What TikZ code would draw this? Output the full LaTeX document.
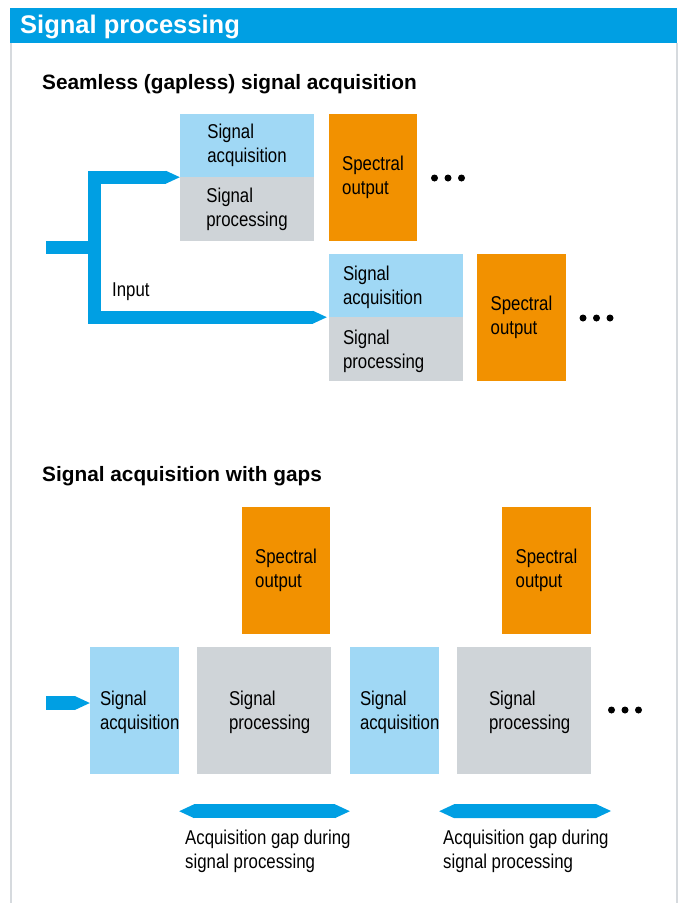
\documentclass[tikz,border=0pt]{standalone}
\usepackage{fontspec}
\setmainfont{Liberation Sans}
\newfontfamily\narrowfont{Liberation Sans}[FakeStretch=0.84]
\usetikzlibrary{arrows.meta}

\definecolor{brandblue}{RGB}{0,159,227}
\definecolor{acqblue}{RGB}{160,216,245}
\definecolor{procgray}{RGB}{207,212,216}
\definecolor{specorange}{RGB}{242,145,0}
\definecolor{framegray}{RGB}{214,218,222}

\tikzset{
  blk/.style={inner sep=0pt, align=left, font=\narrowfont\fontsize{20}{24}\selectfont},
  acq/.style={blk, fill=acqblue},
  proc/.style={blk, fill=procgray},
  spec/.style={blk, fill=specorange, minimum width=88pt, minimum height=127pt},
  pipe/.style={brandblue, line width=13pt, >={Triangle[length=14pt,width=13pt,line width=0pt]}},
  gap/.style={brandblue, line width=14pt, >={Triangle[length=15pt,width=14pt,line width=0pt]}},
  caption/.style={anchor=west, inner sep=0pt, yshift=-2pt, align=left, font=\narrowfont\fontsize{20}{24}\selectfont},
  subtitle/.style={anchor=base west, inner sep=0pt, font=\bfseries\fontsize{20.8}{25}\selectfont}
}

\begin{document}
\begin{tikzpicture}[x=1pt,y=-1pt]

  \useasboundingbox (0,0) rectangle (678,903);

  % header and frame
  \fill[brandblue] (10,8) rectangle (677,43);
  \draw[framegray, line width=2pt] (11,43) -- (11,903) (677,43) -- (677,903);
  \node[anchor=base west, inner sep=0pt, text=white, font=\bfseries\fontsize{25.5}{30}\selectfont] (title) at (20,33) {Signal processing};

  % seamless acquisition
  \node[subtitle] (sub1) at (42,89) {Seamless (gapless) signal acquisition};
  \node[acq, minimum width=134pt, minimum height=63pt] (a1) at (247,145.5) {Signal\\acquisition};
  \node[proc, minimum width=134pt, minimum height=64pt] (p1) at (247,209) {Signal\\processing};
  \node[spec] (o1) at (373,177.5) {Spectral\\output};
  \coordinate (more1) at (448,178);
  \node[acq, minimum width=134pt, minimum height=63pt] (a2) at (396,285.5) {};
  \node[proc, minimum width=134pt, minimum height=64pt] (p2) at (396,349) {};
  \node[caption] (a2t) at ([xshift=14pt]a2.west) {Signal\\acquisition};
  \node[caption] (p2t) at ([xshift=14pt]p2.west) {Signal\\processing};
  \node[spec, minimum width=89pt] (o2) at (521.5,317.5) {Spectral\\output};
  \coordinate (more2) at (596.5,318);

  % input
  \coordinate (src) at (46,247.5);
  \coordinate (split) at (94.5,247.5);
  \draw[pipe] (src) -- (split);
  \draw[pipe,<->] (a1.south west) -| (split) |- ([xshift=-2pt]a2.south west);
  \node[caption] (input) at (112,290) {Input};

  % acquisition with gaps
  \node[subtitle] (sub2) at (42,481) {Signal acquisition with gaps};
  \node[spec] (o3) at (286,570) {Spectral\\output};
  \node[spec, minimum width=89pt] (o4) at (546.5,570.5) {Spectral\\output};
  \node[acq, minimum width=89pt, minimum height=127pt] (a3) at (134.5,710.5) {};
  \node[proc, minimum width=134pt, minimum height=127pt] (p3) at (264,710.5) {};
  \node[acq, minimum width=89pt, minimum height=127pt] (a4) at (394.5,710.5) {};
  \node[proc, minimum width=134pt, minimum height=127pt] (p4) at (524,710.5) {};
  \node[caption] (a3t) at ([xshift=10pt]a3.west) {Signal\\acquisition};
  \node[caption] (p3t) at ([xshift=32pt]p3.west) {Signal\\processing};
  \node[caption] (a4t) at ([xshift=10pt]a4.west) {Signal\\acquisition};
  \node[caption] (p4t) at ([xshift=32pt]p4.west) {Signal\\processing};
  \coordinate (more3) at (625,710);
  \coordinate (next) at (611,774);

  \coordinate (src2) at (46,703);
  \draw[gap,->] (src2) -- (src2 -| a3.west);

  % gaps
  \draw[gap,<->] ([yshift=-37pt]a3.south east) -- ([yshift=-37pt]a4.south west);
  \draw[gap,<->] ([yshift=-37pt]a4.south east) -- ([yshift=-37pt]next);
  \node[caption] (gap1) at (185,849) {Acquisition gap during\\signal processing};
  \node[caption] (gap2) at (443,849) {Acquisition gap during\\signal processing};

  % dots
  \foreach \m in {more1,more2,more3}
    \foreach \d in {-13.5,0,13.5}
      \fill ([xshift=\d pt]\m) circle (3.5pt);

\end{tikzpicture}
\end{document}
